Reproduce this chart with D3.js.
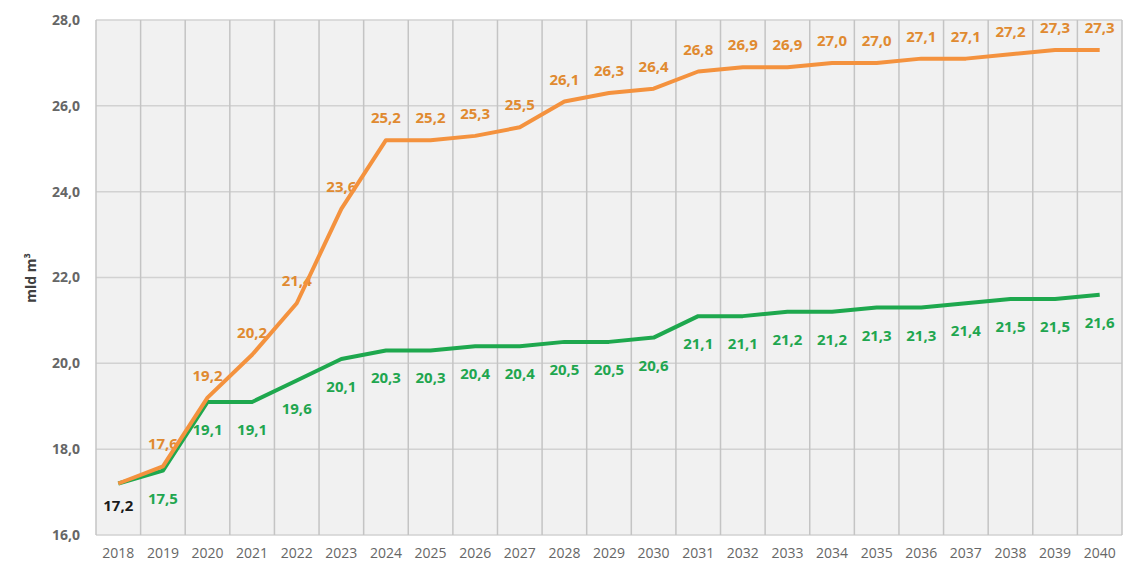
<!DOCTYPE html>
<html lang="pl">
<head>
    <meta charset="UTF-8">
    <title>Prognoza zapotrzebowania na gaz</title>
    <script src="https://d3js.org/d3.v7.min.js"></script>
    <style>
        body {
            margin: 0;
            background: #ffffff;
            font-family: "Open Sans", "Noto Sans", Arial, sans-serif;
        }
        svg {
            display: block;
        }
    </style>
</head>
<body>
    <div id="container"></div>

    <script>
        // data
        const years = ['2018','2019','2020','2021','2022','2023','2024','2025','2026','2027','2028','2029',
            '2030','2031','2032','2033','2034','2035','2036','2037','2038','2039','2040'];
        const orangeValues = [17.2, 17.6, 19.2, 20.2, 21.4, 23.6, 25.2, 25.2, 25.3, 25.5, 26.1, 26.3,
            26.4, 26.8, 26.9, 26.9, 27.0, 27.0, 27.1, 27.1, 27.2, 27.3, 27.3];
        const greenValues = [17.2, 17.5, 19.1, 19.1, 19.6, 20.1, 20.3, 20.3, 20.4, 20.4, 20.5, 20.5,
            20.6, 21.1, 21.1, 21.2, 21.2, 21.3, 21.3, 21.4, 21.5, 21.5, 21.6];
        const yTicks = [16, 18, 20, 22, 24, 26, 28];
        const yTitle = 'mld m³';

        const width = 1125, height = 567;
        const margin = {top: 20, right: 3, bottom: 32, left: 96};

        const svg = d3.select('#container').append('svg')
            .attr('width', width)
            .attr('height', height);

        const x = d3.scaleBand()
            .domain(years)
            .range([margin.left, width - margin.right]);

        const y = d3.scaleLinear()
            .domain([16, 28])
            .range([height - margin.bottom, margin.top]);

        const cx = d => x(d) + x.bandwidth() / 2;

        // plot background
        svg.append('rect')
            .attr('x', margin.left)
            .attr('y', margin.top)
            .attr('width', width - margin.left - margin.right)
            .attr('height', y(16) - margin.top)
            .attr('fill', '#f1f1f1');

        // horizontal grid
        svg.selectAll('.hgrid')
            .data(yTicks)
            .enter()
            .append('line')
            .attr('x1', margin.left)
            .attr('x2', width - margin.right)
            .attr('y1', d => y(d))
            .attr('y2', d => y(d))
            .attr('stroke', '#d2d2d2')
            .attr('stroke-width', 1.5);

        // vertical grid at category borders
        const borders = years.map(d => x(d)).concat([x(years[years.length - 1]) + x.bandwidth()]);
        svg.selectAll('.vgrid')
            .data(borders)
            .enter()
            .append('line')
            .attr('x1', d => d)
            .attr('x2', d => d)
            .attr('y1', margin.top)
            .attr('y2', y(16))
            .attr('stroke', '#c4c4c4')
            .attr('stroke-width', 1.5);

        // y tick labels
        svg.selectAll('.ylab')
            .data(yTicks)
            .enter()
            .append('text')
            .attr('x', 80)
            .attr('y', d => y(d))
            .attr('dy', '0.35em')
            .attr('text-anchor', 'end')
            .attr('font-size', 14)
            .attr('font-weight', 'bold')
            .attr('fill', '#666666')
            .text(d => d.toFixed(1).replace('.', ','));

        // x labels
        svg.selectAll('.xlab')
            .data(years)
            .enter()
            .append('text')
            .attr('x', d => cx(d))
            .attr('y', 558)
            .attr('text-anchor', 'middle')
            .attr('font-size', 14)
            .attr('fill', '#666666')
            .text(d => d);

        // y title
        svg.append('text')
            .attr('transform', 'translate(36,278) rotate(-90)')
            .attr('text-anchor', 'middle')
            .attr('font-size', 14)
            .attr('font-weight', 'bold')
            .attr('fill', '#404040')
            .text(yTitle);

        const line = d3.line()
            .x((d, i) => cx(years[i]))
            .y(d => y(d));

        const fmt = v => v.toFixed(1).replace('.', ',');

        // green labels below the line
        svg.selectAll('.glab')
            .data(greenValues.slice(1))
            .enter()
            .append('text')
            .attr('x', (d, i) => cx(years[i + 1]))
            .attr('y', d => y(d) + 33)
            .attr('text-anchor', 'middle')
            .attr('font-size', 15)
            .attr('font-weight', 'bold')
            .attr('fill', '#1fa64f')
            .text(d => fmt(d));

        // orange labels above the line
        svg.selectAll('.olab')
            .data(orangeValues.slice(1))
            .enter()
            .append('text')
            .attr('x', (d, i) => cx(years[i + 1]))
            .attr('y', d => y(d) - 17)
            .attr('text-anchor', 'middle')
            .attr('font-size', 15)
            .attr('font-weight', 'bold')
            .attr('fill', '#e08a30')
            .text(d => fmt(d));

        // shared first value
        svg.append('text')
            .attr('x', cx(years[0]))
            .attr('y', y(orangeValues[0]) + 27)
            .attr('text-anchor', 'middle')
            .attr('font-size', 15)
            .attr('font-weight', 'bold')
            .attr('fill', '#1a1a1a')
            .text(fmt(orangeValues[0]));

        svg.append('path')
            .datum(greenValues)
            .attr('d', line)
            .attr('fill', 'none')
            .attr('stroke', '#1ea84e')
            .attr('stroke-width', 4)
            .attr('stroke-linejoin', 'round');

        svg.append('path')
            .datum(orangeValues)
            .attr('d', line)
            .attr('fill', 'none')
            .attr('stroke', '#f4923e')
            .attr('stroke-width', 4)
            .attr('stroke-linejoin', 'round');
    </script>
</body>
</html>
